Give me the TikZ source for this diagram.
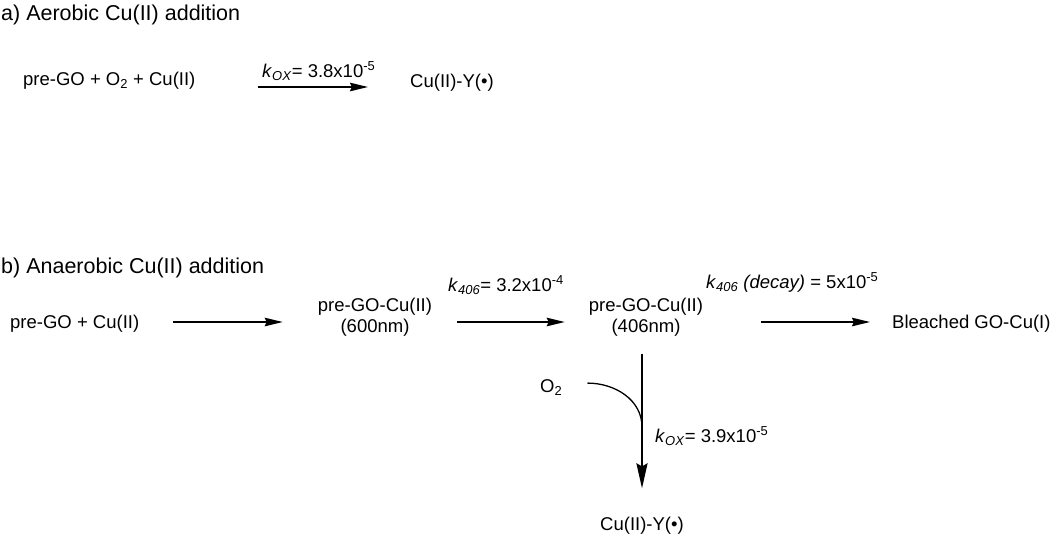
\documentclass[tikz,border=0pt]{standalone}
\usepackage{fontspec}
\setmainfont{Liberation Sans}
\usetikzlibrary{arrows.meta,positioning}
\newcommand{\kox}{\textit{k}\textsubscript{\textit{OX}}}
\newcommand{\kfs}{\textit{k}\textsubscript{\textit{406}}}
\tikzset{
	spc/.style={inner sep=0pt, font=\fontsize{18.5}{21}\selectfont, align=center},
	ttl/.style={inner sep=0pt, font=\fontsize{21.5}{25}\selectfont, anchor=base west},
	rate/.style={inner sep=0pt, font=\fontsize{18.5}{21}\selectfont, anchor=base west},
	rxn/.style={-{Stealth[length=18pt,width=8.5pt,inset=2pt]}, line width=1.9pt},
	rxnv/.style={-{Stealth[length=25pt,width=11pt,inset=3pt]}, line width=2.3pt}
}

\begin{document}
\begin{tikzpicture}[x=1pt,y=-1pt]
	\useasboundingbox (0,0) rectangle (1050,536);
	% a) aerobic
	\node[ttl] (ta) at (1,20) {a) Aerobic Cu(II) addition};
	\node[spc,anchor=base west] (ra) at (23,85) {pre-GO + O\textsubscript{2} + Cu(II)};
	\node[spc,anchor=base west] (ya) at (410,87) {Cu(II)-Y(•)};
	\node[rate] (ka) at (262,77) {\kox= 3.8x10\textsuperscript{-5}};
	\coordinate (la) at (0,87);
	\path[rxn] (ra.east|-la) edge [shorten <=62pt, shorten >=42pt] (ya.west|-la);
	% b) anaerobic
	\node[ttl] (tb) at (1,273) {b) Anaerobic Cu(II) addition};
	\node[spc,anchor=base west] (rb) at (10,328) {pre-GO + Cu(II)};
	\node[spc] (c600) at (375,317) {pre-GO-Cu(II)\\(600nm)};
	\node[spc] (c406) at (646,317) {pre-GO-Cu(II)\\(406nm)};
	\node[spc,anchor=base west] (bl) at (892,328) {Bleached GO-Cu(I)};
	\node[spc,anchor=base] (yb) at (642,530) {Cu(II)-Y(•)};
	\node[spc,anchor=base west] (o2) at (540,392) {O\textsubscript{2}};
	\node[rate] (kb) at (448,291) {\kfs= 3.2x10\textsuperscript{-4}};
	\node[rate] (kd) at (706,288) {\kfs\ \textit{(decay)} = 5x10\textsuperscript{-5}};
	\node[rate] (kv) at (655,442) {\kox= 3.9x10\textsuperscript{-5}};
	\coordinate (lb) at (0,322);
	\coordinate (jn) at (642,427);
	\path[rxn]
	(rb.east|-lb) edge [shorten <=34pt, shorten >=35pt] (c600.west|-lb)
	(c600.east|-lb) edge [shorten <=25pt, shorten >=24pt] (c406.west|-lb)
	(c406.east|-lb) edge [shorten <=58pt, shorten >=22pt] (bl.west|-lb);
	\path[rxnv] (yb.north|-c406.south) edge [shorten <=18pt, shorten >=28pt] (yb.north);
	\draw[line width=1.3pt] ([shift={(25pt,4pt)}]o2.east) to[out=0,in=90] (jn);
\end{tikzpicture}
\end{document}
